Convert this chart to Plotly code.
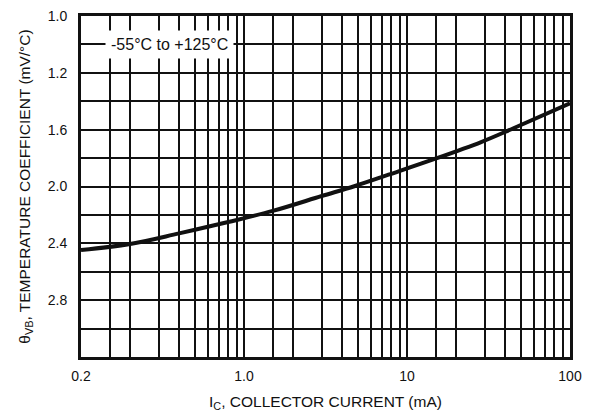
import plotly.graph_objects as go

# Data (x in mA on the plotted log scale, y in axis units)
current_ma = [0.1, 0.2, 0.4, 0.8, 1.5, 3, 4.75, 7.7, 14.2, 28.5, 45, 100]
temp_coeff = [2.447, 2.405, 2.330, 2.250, 2.172, 2.067, 1.998, 1.917, 1.813, 1.687, 1.590, 1.414]

x_tick_vals = [0.1, 1, 10, 100]
x_tick_text = ["0.2", "1.0", "10", "100"]
x_minor_vals = [m * d for d in (0.1, 1, 10) for m in (1.5, 2, 3, 4, 5, 6, 7, 8, 9)]
y_tick_vals = [0.8, 1.2, 1.6, 2.0, 2.4, 2.8]
y_tick_text = ["1.0", "1.2", "1.6", "2.0", "2.4", "2.8"]

FONT = "Liberation Sans, Arial, sans-serif"

fig = go.Figure()
fig.add_trace(go.Scatter(x=current_ma, y=temp_coeff, mode="lines",
                         line=dict(color="#111111", width=4, shape="spline", smoothing=1.0),
                         showlegend=False, hoverinfo="skip"))

fig.update_layout(
    width=590, height=416,
    margin=dict(l=81, r=20, t=16, b=59),
    paper_bgcolor="white", plot_bgcolor="white",
    font=dict(family=FONT, size=14, color="#111111"),
    xaxis=dict(type="log", range=[-1, 2], tickvals=x_tick_vals, ticktext=x_tick_text,
               showgrid=True, gridcolor="#111111", gridwidth=2,
               minor=dict(tickvals=x_minor_vals, showgrid=True, gridcolor="#111111", gridwidth=2, ticks=""),
               showline=True, linecolor="#111111", linewidth=3, mirror=True,
               ticks="", ticklabelstandoff=4, zeroline=False, automargin=False,
               tickfont=dict(family=FONT, size=14),
               title=dict(text="I<sub>C</sub>, COLLECTOR CURRENT (mA)", standoff=14,
                          font=dict(family=FONT, size=15.5))),
    yaxis=dict(range=[3.2, 0.8], tickvals=y_tick_vals, ticktext=y_tick_text,
               showgrid=True, gridcolor="#111111", gridwidth=2,
               minor=dict(dtick=0.2, tick0=0.8, showgrid=True, gridcolor="#111111", gridwidth=2, ticks=""),
               showline=True, linecolor="#111111", linewidth=3, mirror=True,
               ticks="", zeroline=False, ticklabelstandoff=8, automargin=False,
               tickfont=dict(family=FONT, size=14),
               title=dict(text="\u03b8<sub>VB</sub>, TEMPERATURE COEFFICIENT (mV/\u00b0C)", standoff=14,
                          font=dict(family=FONT, size=15.5))),
    annotations=[dict(text="-55\u00b0C to +125\u00b0C", xref="paper", yref="y",
                      x=0.18, y=1.0, xanchor="center", yanchor="middle", showarrow=False,
                      bgcolor="white", borderpad=5,
                      font=dict(family=FONT, size=16, color="#111111"))],
)

fig.write_html("out.html", post_script="document.body.style.margin='0';",
               config={"displayModeBar": False})
